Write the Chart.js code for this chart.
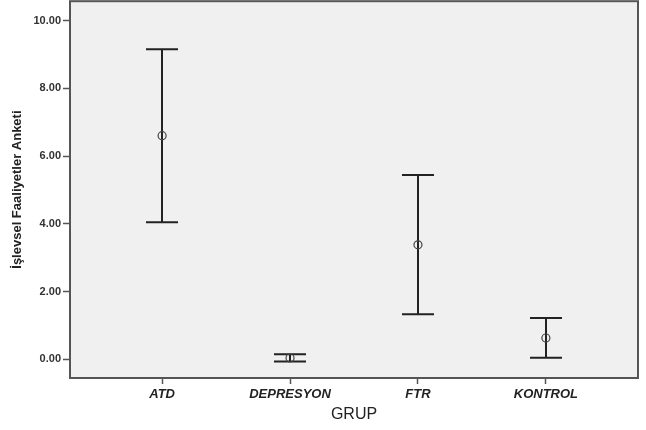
<!DOCTYPE html>
<html>
<head>
<meta charset="utf-8">
<script src="https://cdn.jsdelivr.net/npm/chart.js@4"></script>
<style>
  html, body { margin: 0; padding: 0; background: #fff; overflow: hidden; }
  #wrap { width: 646px; height: 434px; margin-top: -4px; }
</style>
</head>
<body>
<div id="wrap"><canvas id="myChart"></canvas></div>
<script>
// groups and values
const groups = ['ATD', 'DEPRESYON', 'FTR', 'KONTROL'];
const means = [6.60, 0.04, 3.38, 0.63];
const upper = [9.15, 0.15, 5.44, 1.22];
const lower = [4.05, -0.06, 1.33, 0.05];
const yTicks = [0, 2, 4, 6, 8, 10];

const points = [];
for (let i = 0; i < groups.length; i++) {
	points.push({x: i, y: means[i]});
}

// grey plot area + frame
const frame = {
	id: 'frame',
	beforeDraw(chart) {
		const a = chart.chartArea;
		const c = chart.ctx;
		c.save();
		c.fillStyle = '#f0f0f0';
		c.fillRect(a.left, a.top, a.right - a.left, a.bottom - a.top);
		c.restore();
	},
	afterDraw(chart) {
		const a = chart.chartArea;
		const c = chart.ctx;
		c.save();
		c.strokeStyle = '#555';
		c.lineWidth = 2;
		c.strokeRect(a.left, a.top, a.right - a.left, a.bottom - a.top);
		c.restore();
	}
};

// error bars, drawn through the scales
const errorBars = {
	id: 'errorBars',
	beforeDatasetsDraw(chart) {
		const xs = chart.scales.x;
		const ys = chart.scales.y;
		const c = chart.ctx;
		c.save();
		c.strokeStyle = '#222';
		c.lineWidth = 2;
		for (let i = 0; i < groups.length; i++) {
			const x = Math.round(xs.getPixelForValue(i));
			const yt = ys.getPixelForValue(upper[i]);
			const yb = ys.getPixelForValue(lower[i]);
			c.beginPath();
			c.moveTo(x, yt); c.lineTo(x, yb);
			c.moveTo(x - 16, yt); c.lineTo(x + 16, yt);
			c.moveTo(x - 16, yb); c.lineTo(x + 16, yb);
			c.stroke();
		}
		c.restore();
	}
};

const ctx = document.getElementById('myChart');

const myChart = new Chart(ctx, {
	type: 'scatter',
	data: {
		datasets: [{
			data: points,
			pointRadius: 4,
			pointBackgroundColor: 'rgba(0,0,0,0)',
			pointBorderColor: '#444',
			pointBorderWidth: 1.2
		}]
	},
	options: {
		responsive: true,
		maintainAspectRatio: false,
		animation: false,
		layout: { padding: { top: 1, right: 8, left: 0, bottom: 0 } },
		scales: {
			x: {
				type: 'linear',
				min: -0.72,
				max: 3.72,
				afterBuildTicks: function (axis) {
					axis.ticks = groups.map((g, i) => ({value: i}));
				},
				afterFit: function (axis) {
					axis.height = 52;
					axis.paddingLeft = 0;
					axis.paddingRight = 0;
				},
				border: { display: false },
				grid: { drawOnChartArea: false, tickLength: 6, tickColor: '#555', tickWidth: 1.5 },
				ticks: {
					padding: 3,
					color: '#222',
					font: { family: 'Arial, "Liberation Sans"', size: 13, weight: 'bold', style: 'italic' },
					callback: function (v) { return groups[v]; }
				},
				title: {
					display: true,
					text: 'GRUP',
					color: '#222',
					padding: { top: 0, bottom: 6 },
					font: { family: 'Arial, "Liberation Sans"', size: 16 }
				}
			},
			y: {
				min: -0.55,
				max: 10.57,
				afterBuildTicks: function (axis) {
					axis.ticks = yTicks.map(v => ({value: v}));
				},
				afterFit: function (axis) {
					axis.width = 70;
					axis.paddingTop = 0;
					axis.paddingBottom = 0;
				},
				border: { display: false },
				grid: { drawOnChartArea: false, tickLength: 7, tickColor: '#555', tickWidth: 1.5 },
				ticks: {
					padding: 2,
					color: '#333',
					font: { family: 'Arial, "Liberation Sans"', size: 11, weight: 'bold' },
					callback: function (v) { return v.toFixed(2); }
				},
				title: {
					display: true,
					text: 'İşlevsel Faaliyetler Anketi',
					color: '#222',
					padding: { top: 10, bottom: 0 },
					font: { family: 'Arial, "Liberation Sans"', size: 13, weight: 'bold' }
				}
			}
		},
		plugins: {
			legend: { display: false },
			tooltip: { enabled: false }
		}
	},
	plugins: [frame, errorBars]
});
</script>
</body>
</html>
